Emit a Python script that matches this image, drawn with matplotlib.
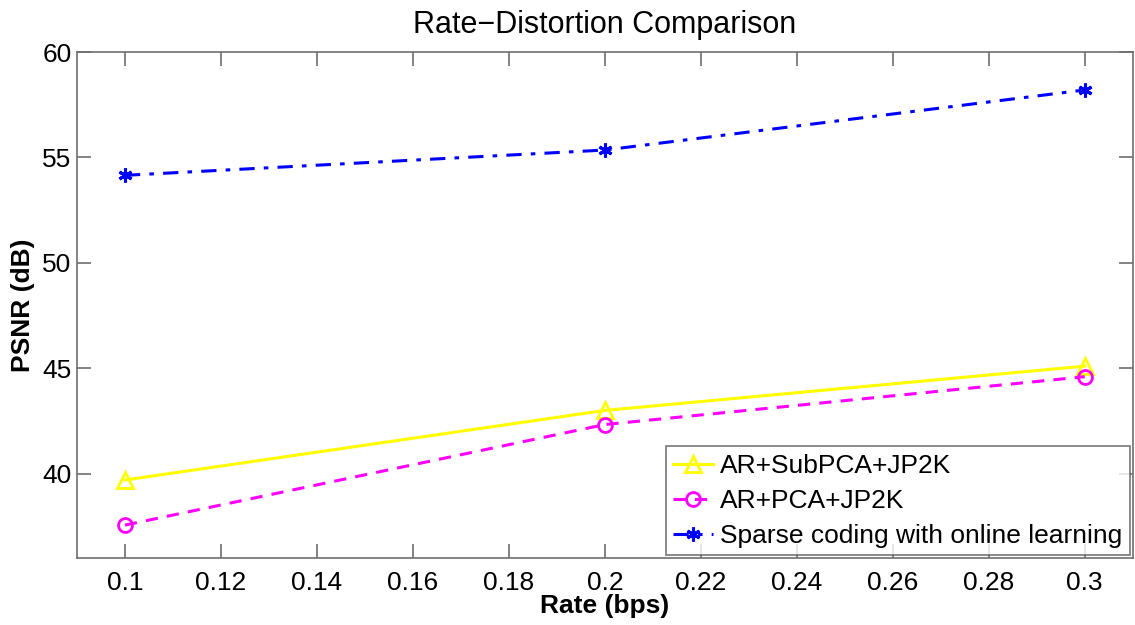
import numpy as np
import matplotlib.pyplot as plt

plt.rcParams['font.family'] = ['Liberation Sans', 'DejaVu Sans']

rate = [0.1, 0.2, 0.3]
psnr_subpca = [39.7, 43.0, 45.1]
psnr_pca = [37.56, 42.33, 44.6]
psnr_sparse = [54.15, 55.35, 58.2]

xticks = [0.1, 0.12, 0.14, 0.16, 0.18, 0.2, 0.22, 0.24, 0.26, 0.28, 0.3]
xticklabels = ['0.1', '0.12', '0.14', '0.16', '0.18', '0.2', '0.22', '0.24', '0.26', '0.28', '0.3']
yticks = [40, 45, 50, 55, 60]

fig = plt.figure(figsize=(11.35, 6.25), dpi=100)
ax = fig.add_axes([0.0678, 0.1072, 0.9302, 0.8096])

ax.plot(rate, psnr_subpca, color='yellow', linestyle='-', linewidth=2.2,
        marker='^', markersize=12, markerfacecolor='none', markeredgewidth=2.0,
        label='AR+SubPCA+JP2K')
ax.plot(rate, psnr_pca, color='magenta', linestyle='--', linewidth=2.2, dashes=(4, 3),
        marker='o', markersize=10, markerfacecolor='none', markeredgewidth=2.0,
        label='AR+PCA+JP2K')
ax.plot(rate, psnr_sparse, color='blue', linestyle='-.', linewidth=2.2, dashes=(5, 3, 1.5, 3),
        marker=(6, 2, 0), markersize=10, markeredgewidth=2.2,
        label='Sparse coding with online learning')

ax.set_xlim(0.09, 0.31)
ax.set_ylim(36, 60)
ax.set_xticks(xticks)
ax.set_xticklabels(xticklabels)
ax.set_yticks(yticks)

for s in ax.spines.values():
    s.set_color('#6e6e6e')
    s.set_linewidth(1.2)
ax.tick_params(direction='in', length=10, width=1.2, color='#6e6e6e',
               top=True, right=True, labelsize=19)
ax.tick_params(axis='x', pad=9)
ax.tick_params(axis='y', pad=4)

ax.set_title('Rate\u2212Distortion Comparison', fontsize=22, pad=14)
ax.set_xlabel('Rate (bps)', fontsize=19, fontweight='bold', labelpad=0)
ax.set_ylabel('PSNR (dB)', fontsize=19, fontweight='bold', labelpad=5)

leg = ax.legend(loc='lower right', fontsize=19, frameon=True, fancybox=False,
                borderaxespad=0.1, handlelength=1.5, handletextpad=0.3,
                labelspacing=0.42, borderpad=0.28)
leg.get_frame().set_edgecolor('#555555')
leg.get_frame().set_linewidth(1.2)

fig.savefig('out.png', dpi=100)
